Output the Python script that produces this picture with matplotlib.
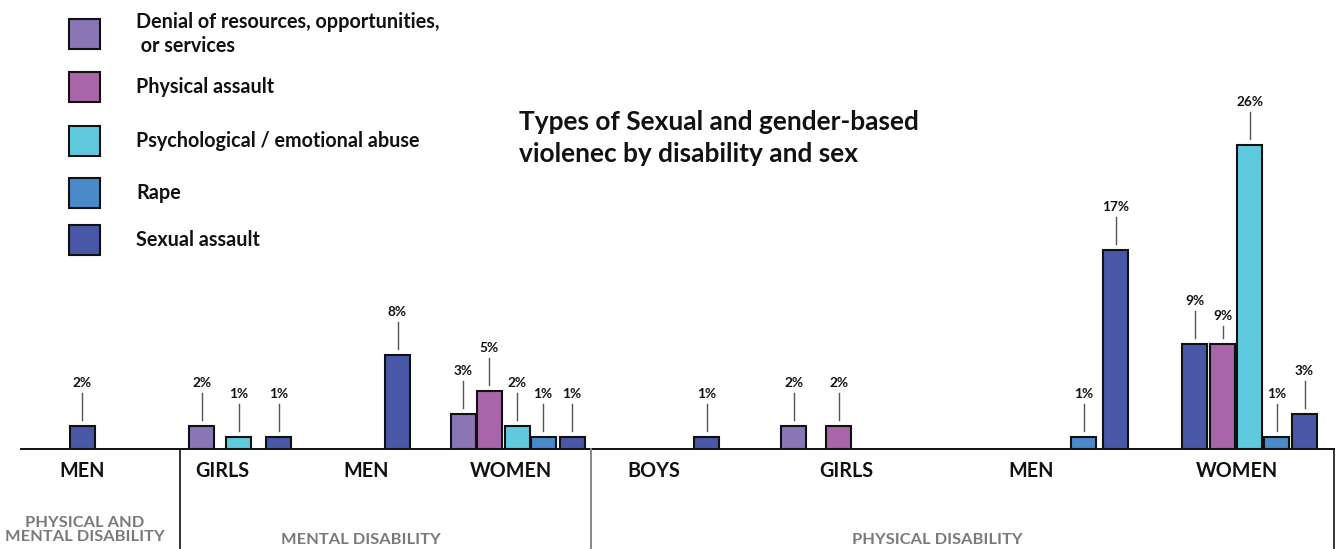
import matplotlib
matplotlib.use("Agg")
import matplotlib.pyplot as plt
from matplotlib.patches import Rectangle

plt.rcParams['font.family'] = ['Lato', 'DejaVu Sans']

# violence types and their colours
types = ["Denial of resources, opportunities,\n or services", "Physical assault",
         "Psychological / emotional abuse", "Rape", "Sexual assault"]
type_colors = ["#8a75b5", "#a866a8", "#5fc9dd", "#4a8ac8", "#4858a6"]

# one entry per bar: colour index and percentage
bar_type = [4,
            0, 2, 4,
            4,
            0, 1, 2, 3, 4,
            4,
            0, 1,
            3, 4,
            4, 1, 2, 3, 4]
bar_value = [2,
             2, 1, 1,
             8,
             3, 5, 2, 1, 1,
             1,
             2, 2,
             1, 17,
             9, 9, 26, 1, 3]

# sub-group (sex) and group (disability) labels
sex_labels = ["MEN", "GIRLS", "MEN", "WOMEN", "BOYS", "GIRLS", "MEN", "WOMEN"]
disability_labels = ["PHYSICAL AND\nMENTAL DISABILITY", "MENTAL DISABILITY", "PHYSICAL DISABILITY"]

# layout, in pixels
W, H = 1338, 549
BASE = 449
PX_PER_PCT = 11.7
bar_x = [82,
         201.5, 238.5, 278.5,
         397.5,
         463, 489, 517, 543, 572,
         706.5,
         793.5, 838.5,
         1083.5, 1115.5,
         1194.5, 1222.5, 1249.5, 1276.5, 1304.5]
bar_w = 25
leader = [27] * len(bar_value)
leader[16] = 12
sex_x = [82, 222, 366, 511, 654, 846, 1031, 1237]
dis_x = [85, 361, 937]

fig = plt.figure(figsize=(W / 100, H / 100), dpi=100)

# bars in value space; x in pixels
ax = fig.add_axes([0, 1 - BASE / H, 1, BASE / H])
ax.set_xlim(0, W)
ax.set_ylim(0, BASE / PX_PER_PCT)
ax.axis("off")
ax.bar(bar_x, bar_value, width=bar_w, color=[type_colors[t] for t in bar_type],
       edgecolor="#111111", linewidth=1.5, zorder=3)

# overlay in pixel coordinates for text and frame lines
ov = fig.add_axes([0, 0, 1, 1], zorder=4)
ov.set_xlim(0, W)
ov.set_ylim(H, 0)
ov.axis("off")

for x, v, ln in zip(bar_x, bar_value, leader):
    top = BASE - v * PX_PER_PCT
    y0 = top - 6
    ov.plot([x, x], [y0, y0 - ln], color="#555555", lw=1)
    ov.text(x, y0 - ln - 4, f"{v}%", ha="center", va="bottom",
            fontsize=9.8, fontweight="bold", color="#111111")

ov.plot([21, 1334], [BASE, BASE], color="#111111", lw=1.4)
ov.plot([180, 180], [BASE, H], color="#111111", lw=1.2)
ov.plot([591, 591], [BASE, H], color="#888888", lw=1.4)
ov.plot([1334, 1334], [BASE, H], color="#111111", lw=1.2)

for x, s in zip(sex_x, sex_labels):
    ov.text(x, 471, s, ha="center", va="center", fontsize=14.2, fontweight="bold", color="#111111")

ov.text(dis_x[0], 530, disability_labels[0], ha="center", va="center", fontsize=11.8,
        fontweight="bold", color="#7a7a7a", linespacing=1.05)
for x, s in zip(dis_x[1:], disability_labels[1:]):
    ov.text(x, 540, s, ha="center", va="center", fontsize=11.8, fontweight="bold", color="#7a7a7a")

# legend
leg_y = [34, 87, 141, 193, 240]
for y, name, c in zip(leg_y, types, type_colors):
    ov.add_patch(Rectangle((69, y - 15), 31, 30, facecolor=c, edgecolor="#111111", lw=1.5))
    ov.text(136, y, name, ha="left", va="center", fontsize=14.2, fontweight="bold",
            color="#111111", linespacing=1.2)

ov.text(519, 138, "Types of Sexual and gender-based\nviolenec by disability and sex", ha="left",
        va="center", fontsize=18.9, fontweight="bold", color="#111111", linespacing=1.38)

fig.savefig("out.png", dpi=100)
